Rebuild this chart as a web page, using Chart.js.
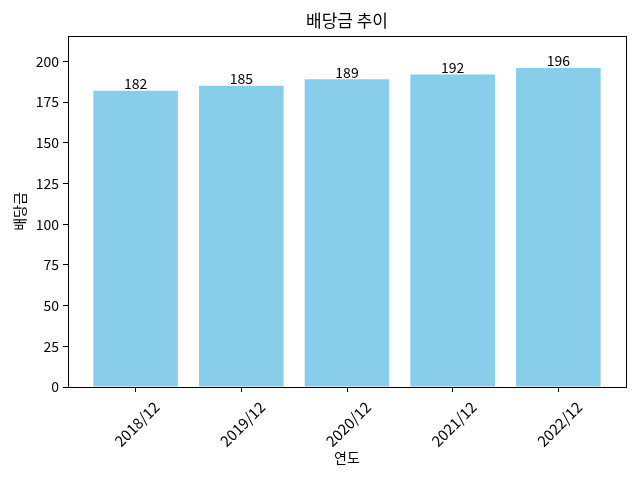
<!DOCTYPE html>
<html><head><meta charset="utf-8">
<script src="https://cdn.jsdelivr.net/npm/chart.js@4.4.0/dist/chart.umd.min.js"></script>
<style>html,body{margin:0;padding:0;background:#fff}canvas{display:block}</style>
</head><body>
<canvas id="c" width="640" height="480"></canvas>
<script>
const categories = ["2018/12", "2019/12", "2020/12", "2021/12", "2022/12"];
const dividends = [182, 185, 189, 192, 196];
const yTicks = [0, 25, 50, 75, 100, 125, 150, 175, 200];
const titleText = "배당금 추이";
const xTitle = "연도";
const yTitle = "배당금";

const FONT = "'Noto Sans CJK KR', 'Noto Sans', sans-serif";
Chart.defaults.font.family = FONT;
Chart.defaults.color = "#000";

const boxPlugin = {
  id: "box",
  afterDraw(chart) {
    const a = chart.chartArea, ctx = chart.ctx;
    ctx.save();
    ctx.strokeStyle = "#000"; ctx.lineWidth = 1;
    ctx.strokeRect(Math.round(a.left) + 0.5, Math.round(a.top) + 0.5, Math.round(a.right - a.left), Math.round(a.bottom - a.top));
    ctx.restore();
  }
};
const titlePlugin = {
  id: "centeredTitle",
  afterDraw(chart) {
    const a = chart.chartArea, ctx = chart.ctx;
    ctx.save();
    ctx.font = "17px " + FONT;
    ctx.fillStyle = "#000";
    ctx.textAlign = "center";
    ctx.textBaseline = "middle";
    ctx.fillText(titleText, (a.left + a.right) / 2, 21);
    ctx.restore();
  }
};
const valuePlugin = {
  id: "values",
  afterDatasetsDraw(chart) {
    const ctx = chart.ctx, meta = chart.getDatasetMeta(0);
    ctx.save();
    ctx.font = "14px " + FONT;
    ctx.fillStyle = "#000";
    ctx.textAlign = "center";
    ctx.textBaseline = "bottom";
    meta.data.forEach((bar, i) => {
      ctx.fillText(String(dividends[i]), bar.x, bar.y + 0);
    });
    ctx.restore();
  }
};

new Chart(document.getElementById("c"), {
  type: "bar",
  data: {
    datasets: [{
      data: dividends.map((v, i) => ({ x: i, y: v })),
      backgroundColor: "#87CEEB",
      borderWidth: 0,
      barPercentage: 0.8,
      categoryPercentage: 1.0
    }]
  },
  options: {
    responsive: false,
    devicePixelRatio: 1,
    animation: false,
    layout: { padding: { left: 0, right: 14, top: 36, bottom: 0 } },
    plugins: {
      legend: { display: false },
      tooltip: { enabled: false },
      title: { display: false }
    },
    scales: {
      x: {
        type: "linear",
        min: -0.64, max: 4.64,
        offset: false,
        afterFit(s) { s.height = 93; },
        afterBuildTicks(s) { s.ticks = categories.map((c, i) => ({ value: i })); },
        ticks: {
          callback: (v) => categories[v],
          maxRotation: 45, minRotation: 45,
          font: { size: 15 }, color: "#000",
          padding: 6, labelOffset: 21, autoSkip: false
        },
        grid: { offset: false, drawOnChartArea: false, drawTicks: true, tickLength: 5, tickColor: "#000" },
        border: { display: true, color: "#000" },
        title: { display: true, text: xTitle, color: "#000", font: { size: 14 }, padding: { top: 4, bottom: 14 } }
      },
      y: {
        min: 0, max: 215.6,
        afterFit(s) { s.width = 68; },
        afterBuildTicks(s) { s.ticks = yTicks.map(v => ({ value: v })); },
        ticks: { font: { size: 14 }, color: "#000", padding: 4, includeBounds: false },
        grid: { drawOnChartArea: false, drawTicks: true, tickLength: 5, tickColor: "#000" },
        border: { display: true, color: "#000" },
        title: { display: true, text: yTitle, color: "#000", font: { size: 14 }, padding: { top: 11, bottom: 4 } }
      }
    }
  },
  plugins: [boxPlugin, titlePlugin, valuePlugin]
});
</script>
</body></html>
